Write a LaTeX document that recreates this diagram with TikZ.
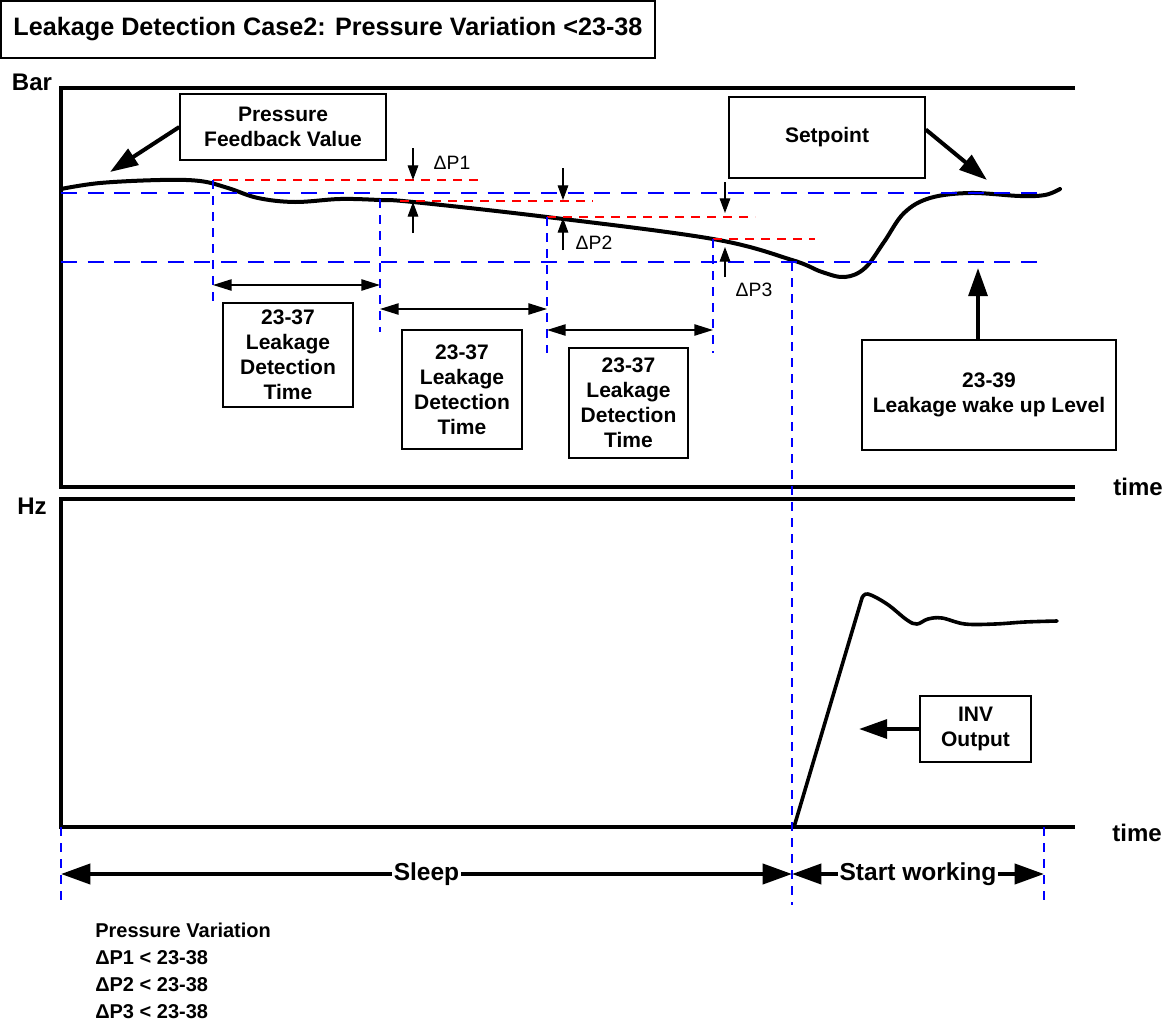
\documentclass[tikz,border=0pt]{standalone}
\usepackage{fontspec}
\setmainfont{Liberation Sans}
\usetikzlibrary{arrows.meta}

\begin{document}
\begin{tikzpicture}[x=0.75pt,y=-0.75pt,
  axisline/.style={line width=3.2pt},
  curve/.style={line width=3pt,line join=round,line cap=round},
  guide/.style={blue,line width=0.9pt,dash pattern=on 7pt off 5pt},
  level/.style={blue,line width=1.5pt,dash pattern=on 12pt off 8pt},
  drop/.style={red,line width=1pt,dash pattern=on 7pt off 5pt},
  box/.style={draw,line width=1.1pt,align=center,inner sep=0pt,font=\bfseries\fontsize{15.75}{18.75}\selectfont},
  axislabel/.style={inner sep=0pt,font=\bfseries\fontsize{18}{20}\selectfont},
  dplabel/.style={inner sep=0pt,font=\fontsize{14.5}{16}\selectfont},
  bigarrow/.style={line width=3pt,-{Triangle[length=21pt,width=14pt]}},
  span/.style={line width=1.1pt,{Triangle[length=14pt,width=8.5pt]}-{Triangle[length=14pt,width=8.5pt]}},
  dparrow/.style={line width=0.8pt,-{Triangle[length=11pt,width=8pt]}},
  phase/.style={line width=3pt,{Triangle[length=22pt,width=15pt]}-{Triangle[length=22pt,width=15pt]}}]
     \useasboundingbox (0,0) rectangle (1168,1025);
     \node[box,minimum width=490.5pt,minimum height=42.75pt,font=\bfseries\fontsize{18.9}{21}\selectfont] (title) at (328,29.5){Leakage Detection Case2: Pressure Variation <23-38};
     \node[axislabel] (bar) at (32,82){Bar};
     \node[axislabel] (hz) at (32,506){Hz};
     \node[axislabel] (time1) at (1138,487){time};
     \node[axislabel] (time2) at (1137,833){time};
     \draw[axisline] (1075,88) -- (61,88) -- (61,487) -- (1075,487);
     \draw[axisline] (1075,499) -- (61,499) -- (61,827) -- (794,827);
     \draw[line width=2.3pt] (794,827) -- (1075,827);

     \draw[curve] plot[smooth,tension=0.6] coordinates {(61,189) (100,183) (160,180) (200,181) (228,188) (258,198) (295,202) (340,199) (380,200) (413,202) (547,217) (713,239) (792,260) (822,272) (845,277) (865,268) (884,242) (904,213) (930,198) (970,193) (1020,196) (1045,195) (1060,189)};
     \draw[curve,line width=2.7pt] (794,827) -- plot[smooth,tension=0.6] coordinates {(862,598) (868,594) (887,604) (907,620) (917,624) (928,619) (942,618) (965,624) (995,624) (1025,622) (1057,621)};

     \draw[level] (61,193) -- (1047,193);
     \draw[level] (61,262) -- (1045,262);
     \draw[drop] (213,180) -- (478,180);
     \draw[drop] (400,201) -- (593,201);
     \draw[drop] (547,217) -- (755,217);
     \draw[drop] (713,239) -- (815,239);
     \draw[guide] (213,180) -- (213,303);
     \draw[guide] (380,199) -- (380,332);
     \draw[guide] (547,217) -- (547,353);
     \draw[guide] (713,239) -- (713,353);
     \draw[guide] (792,262) -- (792,905);
     \draw[guide] (61,827) -- (61,905);
     \draw[guide] (1044,827) -- (1044,903);

     \draw[dparrow] (413,148) -- (413,180);
     \draw[dparrow] (413,233) -- (413,202);
     \draw[dparrow] (563,168) -- (563,200);
     \draw[dparrow] (563,250) -- (563,218);
     \draw[dparrow] (725,182) -- (725,213);
     \draw[dparrow] (725,277) -- (725,247);
     \node[dplabel] (dp1) at (452,163){ΔP1};
     \node[dplabel] (dp2) at (594,243){ΔP2};
     \node[dplabel] (dp3) at (754,290){ΔP3};

     \draw[span] (213,285) -- (380,285);
     \draw[span] (380,309) -- (547,309);
     \draw[span] (547,330) -- (713,330);
     \node[box,minimum width=97.5pt,minimum height=78pt] (detect1) at (288,355){23-37\\Leakage\\Detection\\Time};
     \node[box,minimum width=90pt,minimum height=89.25pt] (detect2) at (462,389.5){23-37\\Leakage\\Detection\\Time};
     \node[box,minimum width=89.25pt,minimum height=82.5pt] (detect3) at (628.5,403){23-37\\Leakage\\Detection\\Time};

     \node[box,minimum width=154.5pt,minimum height=49.5pt] (feedback) at (283,127){Pressure\\Feedback Value};
     \node[box,minimum width=147pt,minimum height=60.75pt] (setpoint) at (827,137.5){Setpoint};
     \node[box,minimum width=190.5pt,minimum height=82.5pt] (wakeup) at (989,395){23-39\\Leakage wake up Level};
     \node[box,minimum width=83.25pt,minimum height=49.5pt] (inv) at (975.5,729){INV\\Output};
     \coordinate (fbtip) at (110,172);
     \coordinate (sptip) at (987,180);
     \coordinate (wktip) at (978,268);
     \coordinate (invtip) at (859,729);
     \draw[bigarrow] (feedback.west) -- (fbtip);
     \draw[bigarrow] ([yshift=6pt]setpoint.east) -- (sptip);
     \draw[bigarrow] (wktip |- wakeup.north) -- (wktip);
     \draw[bigarrow] (inv.west) -- (invtip);

     \coordinate (sleepstart) at (61,874);
     \coordinate (workstart) at (792,874);
     \coordinate (workend) at (1044,874);
     \draw[phase] (sleepstart) -- node[fill=white,inner sep=1pt,font=\bfseries\fontsize{18.4}{20}\selectfont] (sleep){Sleep} (workstart);
     \draw[phase] (workstart) -- node[fill=white,inner sep=1pt,font=\bfseries\fontsize{18.4}{20}\selectfont] (working){Start working} (workend);
     \node[anchor=west,align=left,inner sep=0pt,font=\bfseries\fontsize{15}{20.25}\selectfont] (variation) at (95,970.5){Pressure Variation\\ΔP1 < 23-38\\ΔP2 < 23-38\\ΔP3 < 23-38};
\end{tikzpicture}
\end{document}
